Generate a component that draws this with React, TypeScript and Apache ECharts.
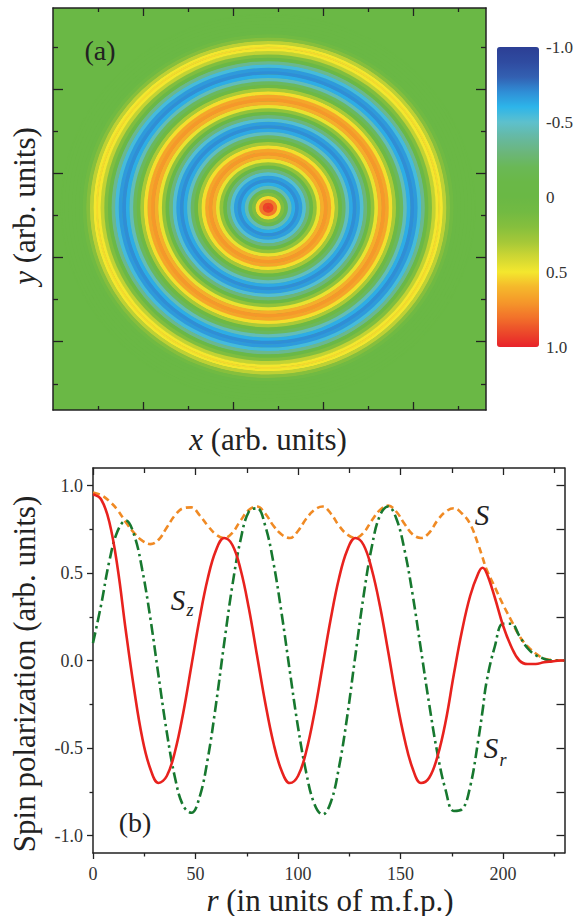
import React, { useEffect, useRef } from "react";
import * as echarts from "echarts";

// ---------- data ----------
const rs = [0, 4, 8, 12, 16, 20, 24, 28, 32, 36, 40, 44, 48, 52, 56, 60, 64, 68, 72, 76, 80, 84, 88, 92, 96, 100, 104, 108, 112, 116, 120, 124, 128, 132, 136, 140, 144, 148, 152, 156, 160, 164, 168, 172, 176, 180, 184, 188, 190, 192, 196, 200, 204, 208, 212, 216, 220, 224, 228, 230];

// S_z (red, solid) – also the radial profile of panel (a)
const szVals = [0.95, 0.92, 0.79, 0.53, 0.17, -0.16, -0.44, -0.62, -0.70, -0.66, -0.52, -0.30, -0.03, 0.24, 0.47, 0.63, 0.70, 0.66, 0.52, 0.30, 0.03, -0.24, -0.47, -0.63, -0.70, -0.66, -0.52, -0.30, -0.03, 0.24, 0.47, 0.63, 0.70, 0.66, 0.52, 0.31, 0.05, -0.22, -0.45, -0.62, -0.70, -0.67, -0.55, -0.35, -0.08, 0.17, 0.37, 0.50, 0.53, 0.50, 0.36, 0.20, 0.08, 0.00, -0.02, -0.02, -0.01, -0.005, 0, 0];

// S_r (green, dash-dot)
const srVals = [0.10, 0.32, 0.57, 0.74, 0.80, 0.72, 0.52, 0.24, -0.09, -0.41, -0.67, -0.83, -0.87, -0.78, -0.56, -0.25, 0.10, 0.43, 0.69, 0.85, 0.87, 0.77, 0.56, 0.27, -0.06, -0.38, -0.64, -0.82, -0.88, -0.81, -0.61, -0.32, 0.03, 0.37, 0.65, 0.83, 0.88, 0.81, 0.63, 0.37, 0.06, -0.25, -0.53, -0.74, -0.86, -0.85, -0.72, -0.45, -0.29, -0.12, 0.08, 0.21, 0.21, 0.14, 0.07, 0.03, 0.01, 0.0, 0, 0];

// S (orange, dashed)
const sVals = [0.96, 0.945, 0.91, 0.86, 0.79, 0.73, 0.685, 0.665, 0.69, 0.76, 0.83, 0.87, 0.875, 0.83, 0.77, 0.72, 0.70, 0.73, 0.80, 0.86, 0.88, 0.84, 0.77, 0.72, 0.70, 0.74, 0.81, 0.86, 0.88, 0.84, 0.77, 0.72, 0.70, 0.73, 0.80, 0.86, 0.885, 0.85, 0.78, 0.72, 0.70, 0.73, 0.80, 0.85, 0.87, 0.84, 0.78, 0.66, 0.59, 0.52, 0.42, 0.32, 0.23, 0.14, 0.08, 0.04, 0.01, 0.003, 0, 0];

// ticks
const bXMajor = [0, 50, 100, 150, 200];
const bXMinor = [25, 75, 125, 175, 225];
const bYMajor = [-1, -0.5, 0, 0.5, 1];
const bYMinor = [-0.75, -0.25, 0.25, 0.75];
const aXMajor = [100, 200, 300, 400];
const aXMinor = [50, 150, 250, 350, 450];
const aYMajor = [81, 181, 281, 381];
const aYMinor = [31, 131, 231, 331, 431];
const cbTicks = [-1, -0.5, 0, 0.5, 1];

const cbColors = [
  "#2c3f95", "#2f4ba0", "#3360b2", "#2f8ed6", "#2db5ea", "#5dc0cd", "#66b9a3",
  "#6bb67c", "#6ab856", "#6ab847", "#6ab845", "#72ba42", "#86bf3d", "#a5c838",
  "#cfd733", "#f4e72e", "#f5b82b", "#f5982a", "#f2732a", "#ec4a2a", "#e8222a",
];

const FONT = "Liberation Serif";
const INK = "#222";
const MAP_CX = 239;
const MAP_CY = 240;

export default function App() {
  const ref = useRef<HTMLDivElement | null>(null);

  useEffect(() => {
    if (!ref.current) return;
    const chart = echarts.init(ref.current, undefined, { renderer: "svg" });

    const ringData = rs.map((r, i) => {
      const r0 = i === 0 ? 0 : (rs[i - 1] + r) / 2;
      const r1 = i === rs.length - 1 ? r : (r + rs[i + 1]) / 2;
      return [r0, r1, szVals[i]];
    });

    const frame = { show: true, onZero: false, lineStyle: { color: INK, width: 1.5 } };
    const noLine = { show: false, onZero: false };
    const tick = (vals: number[], len: number, inside: boolean) => ({
      show: true, inside, length: len, customValues: vals,
      lineStyle: { color: INK, width: 1.3 },
    });
    const base = (grid: number, min: number, max: number) => ({
      type: "value" as const, gridIndex: grid, min, max,
      splitLine: { show: false }, axisLabel: { show: false },
    });
    const lbl = { show: true, color: "#333", fontFamily: FONT, fontSize: 18 };

    const xAxis = [
      { ...base(0, 0, 481), position: "bottom", axisLine: frame, axisTick: tick(aXMajor, 8, true) },
      { ...base(0, 0, 481), position: "bottom", axisLine: noLine, axisTick: tick(aXMinor, 4, true) },
      { ...base(0, 0, 481), position: "top", axisLine: frame, axisTick: tick(aXMajor, 8, true) },
      { ...base(0, 0, 481), position: "top", axisLine: noLine, axisTick: tick(aXMinor, 4, true) },
      { ...base(1, 0, 1), show: false },
      { ...base(2, 0, 230), position: "bottom", axisLine: frame, axisTick: tick(bXMajor, 6, false),
        axisLabel: { ...lbl, customValues: bXMajor, margin: 12 } },
      { ...base(2, 0, 230), position: "bottom", axisLine: noLine, axisTick: tick(bXMinor, 3.5, false) },
      { ...base(2, 0, 230), position: "top", axisLine: frame, axisTick: tick(bXMajor, 7, true) },
      { ...base(2, 0, 230), position: "top", axisLine: noLine, axisTick: tick(bXMinor, 5, true) },
    ];
    const yAxis = [
      { ...base(0, 0, 477), position: "left", axisLine: frame, axisTick: tick(aYMajor, 10, true) },
      { ...base(0, 0, 477), position: "left", axisLine: noLine, axisTick: tick(aYMinor, 5, true) },
      { ...base(0, 0, 477), position: "right", axisLine: frame, axisTick: tick(aYMajor, 10, true) },
      { ...base(0, 0, 477), position: "right", axisLine: noLine, axisTick: tick(aYMinor, 5, true) },
      { ...base(1, -1, 1), position: "right", inverse: true, interval: 0.5,
        axisLine: { show: false }, axisTick: { show: false },
        axisLabel: { show: true, color: "#333", fontFamily: FONT, fontSize: 17, margin: 7,
          customValues: cbTicks,
          formatter: (v: number) => (v === 0 ? "0" : v.toFixed(1)) } },
      { ...base(2, -1.1, 1.1), position: "left", axisLine: frame, axisTick: tick(bYMajor, 6, false),
        axisLabel: { ...lbl, customValues: bYMajor, margin: 10, formatter: (v: number) => v.toFixed(1) } },
      { ...base(2, -1.1, 1.1), position: "left", axisLine: noLine, axisTick: tick(bYMinor, 3.5, false) },
      { ...base(2, -1.1, 1.1), position: "right", axisLine: frame, axisTick: tick(bYMajor, 8, true) },
      { ...base(2, -1.1, 1.1), position: "right", axisLine: noLine, axisTick: tick(bYMinor, 8, true) },
    ];

    const txt = (text: string, x: number, y: number, size: number, extra: any = {}) => ({
      type: "text", x, y, silent: true,
      style: {
        text, fill: INK, fontFamily: FONT, fontSize: size,
        textAlign: "center", textVerticalAlign: "middle",
        rich: { i: { fontStyle: "italic", fontFamily: FONT, fontSize: size, fill: INK } },
        ...extra.style,
      },
      ...extra.el,
    });
    const sub = { style: { rich: { i: { fontStyle: "italic", fontFamily: FONT, fontSize: 18, fill: INK } } } };

    chart.setOption({
      animation: false,
      backgroundColor: "#fff",
      grid: [
        { left: 53, top: 8, width: 433, height: 402, show: true, backgroundColor: "#6ab845",
          borderWidth: 0, containLabel: false, outerBoundsMode: "none" },
        { left: 497, top: 47, width: 42, height: 300, containLabel: false, outerBoundsMode: "none" },
        { left: 93, top: 468, width: 471.5, height: 385, containLabel: false, outerBoundsMode: "none" },
      ],
      xAxis,
      yAxis,
      visualMap: {
        type: "continuous", min: -1, max: 1, seriesIndex: 0, dimension: 2,
        inRange: { color: cbColors }, inverse: true, orient: "vertical",
        left: 497, top: 47, itemWidth: 42, itemHeight: 300, padding: 0,
        text: ["", ""], calculable: false, hoverLink: false, textGap: 0,
      },
      series: [
        {
          type: "custom", xAxisIndex: 0, yAxisIndex: 0, clip: true,
          data: ringData,
          encode: { x: 0, y: 1 },
          renderItem: (_p: any, api: any) => {
            const c = api.coord([MAP_CX, MAP_CY]);
            const s = api.size([1, 1]);
            return {
              type: "ring",
              x: c[0], y: c[1],
              scaleY: s[1] / s[0],
              shape: { cx: 0, cy: 0, r: api.value(1) * s[0] + 0.4, r0: api.value(0) * s[0] },
              style: { fill: api.visual("color") },
            };
          },
        },
        {
          name: "S", type: "line", xAxisIndex: 5, yAxisIndex: 5, symbol: "none", smooth: 0.4,
          data: rs.map((r, i) => [r, sVals[i]]),
          lineStyle: { color: "#f08a24", width: 2.6, type: [7, 4] },
        },
        {
          name: "Sr", type: "line", xAxisIndex: 5, yAxisIndex: 5, symbol: "none", smooth: 0.4,
          data: rs.map((r, i) => [r, srVals[i]]),
          lineStyle: { color: "#17782f", width: 2.6, type: [11, 4, 2.5, 4] },
        },
        {
          name: "Sz", type: "line", xAxisIndex: 5, yAxisIndex: 5, symbol: "none", smooth: 0.4,
          data: rs.map((r, i) => [r, szVals[i]]),
          lineStyle: { color: "#e8221e", width: 2.6 },
        },
      ],
      graphic: [
        txt("(a)", 100, 50, 28),
        txt("(b)", 135, 822, 28),
        txt("{i|y} (arb. units)", 24, 206, 31, { el: { rotation: Math.PI / 2 } }),
        txt("{i|x} (arb. units)", 268, 439, 31),
        txt("Spin polarization (arb. units)", 24, 674, 31, { el: { rotation: Math.PI / 2 } }),
        txt("{i|r} (in units of m.f.p.)", 330, 900, 31),
        txt("{i|S}", 482, 515, 29),
        txt("{i|S}", 178, 600, 29),
        txt("{i|z}", 190, 610, 18, sub),
        txt("{i|S}", 491, 748, 29),
        txt("{i|r}", 503, 760, 18, sub),
      ],
    });

    return () => chart.dispose();
  }, []);

  return (
    <div
      ref={ref}
      style={{ position: "fixed", left: 0, top: 0, width: 574, height: 916, background: "#fff" }}
    />
  );
}
